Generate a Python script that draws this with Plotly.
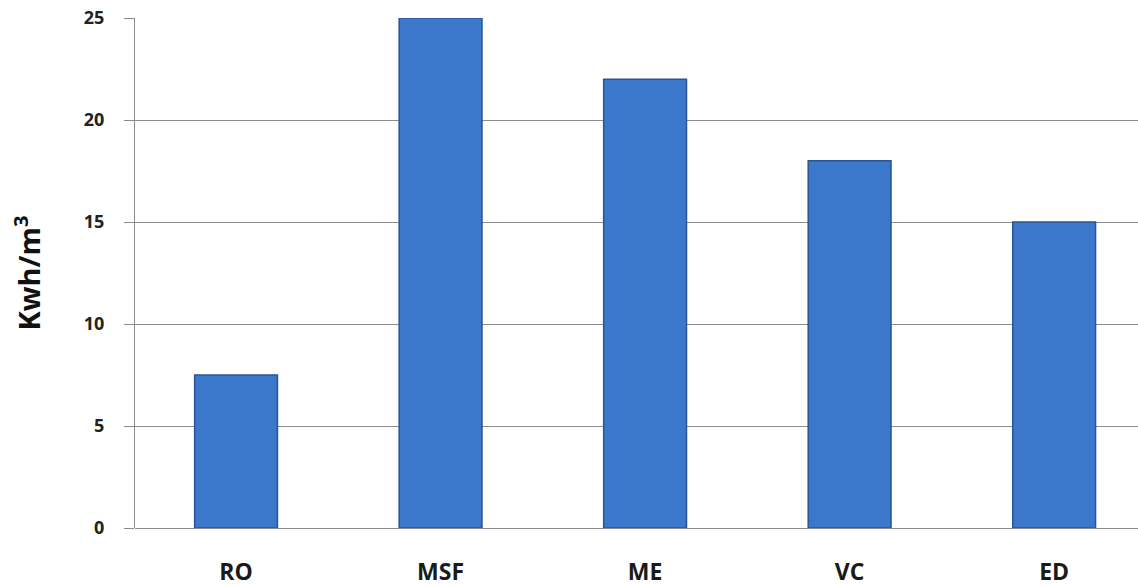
import plotly.graph_objects as go

# Specific energy consumption of desalination processes
processes = ["RO", "MSF", "ME", "VC", "ED"]
energy_kwh_m3 = [7.5, 25, 22, 18, 15]
y_ticks = [0, 5, 10, 15, 20, 25]

fig = go.Figure()

fig.add_trace(go.Bar(
    x=processes,
    y=energy_kwh_m3,
    width=0.405,
    marker=dict(
        color="#3b78cc",
        line=dict(color="#2a5590", width=1.5),
    ),
    cliponaxis=False,
    hoverinfo="x+y",
))

fig.update_layout(
    width=1138,
    height=587,
    margin=dict(l=135, r=0, t=18, b=59),
    paper_bgcolor="white",
    plot_bgcolor="white",
    showlegend=False,
    font=dict(family="Open Sans, DejaVu Sans, sans-serif", color="#222222"),
)

fig.update_xaxes(
    range=[-0.494, 4.41],
    showgrid=False,
    showline=False,
    ticks="",
    tickfont=dict(size=23, family="Open Sans", weight="bold", color="#1a1a1a"),
    ticklabelstandoff=28,
)

fig.update_yaxes(
    range=[0, 25],
    tickvals=y_ticks,
    showgrid=True,
    gridcolor="#8c8c8c",
    gridwidth=1,
    zeroline=True,
    zerolinecolor="#8c8c8c",
    zerolinewidth=1,
    showline=True,
    linecolor="#8c8c8c",
    linewidth=1,
    ticks="outside",
    ticklen=10,
    tickcolor="#8c8c8c",
    tickfont=dict(size=18, family="Open Sans", weight="bold", color="#222222"),
    ticklabelstandoff=16,
    title=dict(
        text="Kwh/m<sup>3</sup>",
        font=dict(size=29, family="Open Sans", weight="bold", color="#111111"),
        standoff=34,
    ),
)

fig.write_html("out.html")
